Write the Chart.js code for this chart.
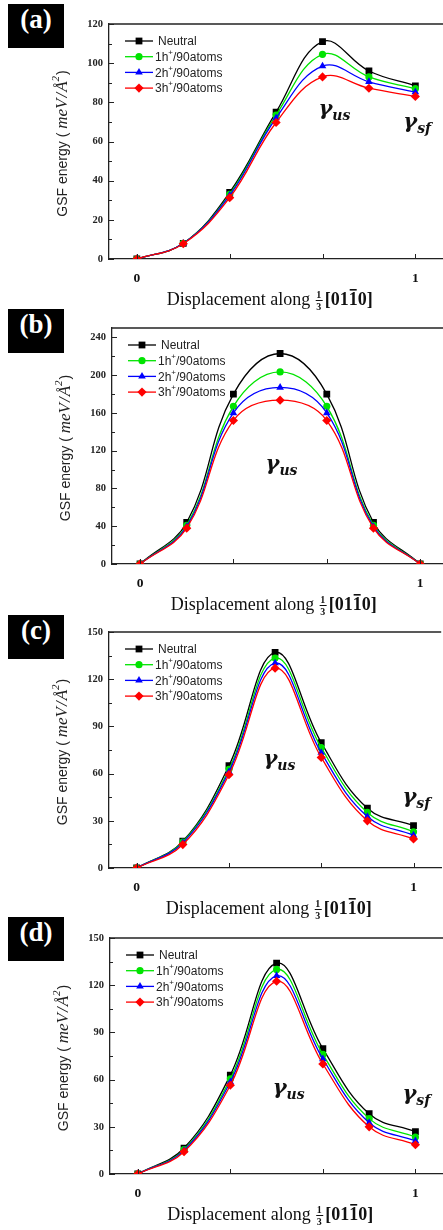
<!DOCTYPE html>
<html>
<head>
<meta charset="utf-8">
<title>GSF energy curves</title>
<script src="https://cdn.jsdelivr.net/npm/chart.js@4.4.1/dist/chart.umd.min.js"></script>
<style>
  html, body { margin: 0; padding: 0; background: #fff; overflow: hidden; }
  body { width: 443px; height: 1230px; position: relative; }
  canvas { position: absolute; left: 0; }
  .tag {
    position: absolute; left: 8px; width: 56px; height: 44px;
    background: #000; color: #fff; text-align: center; line-height: 44px;
    font: bold 27px "Liberation Serif", "Times New Roman", serif;
  }
</style>
</head>
<body>
<div class="tag" style="top:4px">(a)</div>
<div class="tag" style="top:309px">(b)</div>
<div class="tag" style="top:615px">(c)</div>
<div class="tag" style="top:917px">(d)</div>

<canvas id="gsfA" width="448" height="320" style="top:0px"></canvas>
<canvas id="gsfB" width="453" height="320" style="top:305px"></canvas>
<canvas id="gsfC" width="446" height="320" style="top:610px"></canvas>
<canvas id="gsfD" width="448" height="320" style="top:915px"></canvas>

<script>
// displacement along 1/3[01-10], in units of the slip vector
const displacement = [0, 1/6, 2/6, 3/6, 4/6, 5/6, 1];
const seriesLabels = ['Neutral', '1h⁺/90atoms', '2h⁺/90atoms', '3h⁺/90atoms'];

const xTickValues = [0, 1/3, 2/3, 1];
const xTickLabels = ['0', '', '', '1'];

// (a)
const neutralA = [0, 8, 34, 75, 111, 96, 88.4];
const oneHoleA = [0, 8, 33, 73.5, 104.5, 93, 87];
const twoHoleA = [0, 8, 32.5, 72, 98.5, 90.5, 85.2];
const threeHoleA = [0, 7.8, 31.3, 69.7, 93, 87.2, 83];
const yTicksA = [0, 20, 40, 60, 80, 100, 120];

// (b)
const neutralB = [0, 44, 180, 223, 180, 44, 0];
const oneHoleB = [0, 41, 167, 203.5, 167, 41, 0];
const twoHoleB = [0, 39.6, 160, 187, 160, 39.6, 0];
const threeHoleB = [0, 38, 152, 173.5, 152, 38, 0];
const yTicksB = [0, 40, 80, 120, 160, 200, 240];

// (c)
const neutralC = [0, 17, 65, 137, 79.7, 38, 27];
const oneHoleC = [0, 16.5, 62.7, 133.4, 76.5, 35.3, 23];
const twoHoleC = [0, 16, 61.2, 130.2, 73.3, 32.7, 20.8];
const threeHoleC = [0, 14.9, 59.3, 127, 70.3, 30, 18.5];
const yTicksC = [0, 30, 60, 90, 120, 150];

// (d)
const neutralD = [0, 16.5, 62.9, 134, 79.7, 38.3, 26.9];
const oneHoleD = [0, 15.5, 60.4, 130, 76, 35.2, 23.5];
const twoHoleD = [0, 15, 58.5, 126, 73.1, 32.6, 21];
const threeHoleD = [0, 14.2, 56.4, 122.5, 69.9, 30, 18.6];
const yTicksD = [0, 30, 60, 90, 120, 150];

const seriesStyles = [
  { color: '#000000', point: 'rect', radius: 4.8 },
  { color: '#00e400', point: 'circle', radius: 3.6 },
  { color: '#0000ff', point: 'triangle', radius: 4.4 },
  { color: '#ff0000', point: 'rectRot', radius: 4.6 },
];

const SERIF = '"Liberation Serif", "Times New Roman", serif';
const SANS = '"Liberation Sans", Arial, sans-serif';
const GREEK = '"DejaVu Serif", "Liberation Serif", serif';

const panels = [
  { id: 'gsfA', plotLeft: 109, plotTop: 24, plotHeight: 235, yMax: 120, yTicks: yTicksA, minorStep: 10,
    series: [neutralA, oneHoleA, twoHoleA, threeHoleA],
    gammas: [{ sub: 'us', x: 0.652, y: 73.5 }, { sub: 'sf', x: 0.957, y: 67 }] },
  { id: 'gsfB', plotLeft: 112, plotTop: 23, plotHeight: 236, yMax: 250, yTicks: yTicksB, minorStep: 20,
    series: [neutralB, oneHoleB, twoHoleB, threeHoleB],
    gammas: [{ sub: 'us', x: 0.448, y: 100 }] },
  { id: 'gsfC', plotLeft: 109, plotTop: 22, plotHeight: 236, yMax: 150, yTicks: yTicksC, minorStep: 15,
    series: [neutralC, oneHoleC, twoHoleC, threeHoleC],
    gammas: [{ sub: 'us', x: 0.458, y: 65.5 }, { sub: 'sf', x: 0.96, y: 41.3 }] },
  { id: 'gsfD', plotLeft: 110, plotTop: 23, plotHeight: 236, yMax: 150, yTicks: yTicksD, minorStep: 15,
    series: [neutralD, oneHoleD, twoHoleD, threeHoleD],
    gammas: [{ sub: 'us', x: 0.486, y: 50.9 }, { sub: 'sf', x: 0.953, y: 47 }] },
];

// draw a run of text pieces with their own fonts, starting at x
function drawRuns(ctx, runs, x, y) {
  let cx = x;
  for (const r of runs) {
    ctx.font = r.font;
    ctx.fillText(r.text, cx, y + (r.dy || 0));
    const w = ctx.measureText(r.text).width;
    if (r.overline) {
      ctx.fillRect(cx + 1, y - 16, w - 2, 1.6);
    }
    cx += w + (r.gap || 0);
  }
  return cx;
}

function runsWidth(ctx, runs) {
  let w = 0;
  for (const r of runs) {
    ctx.font = r.font;
    w += ctx.measureText(r.text).width + (r.gap || 0);
  }
  return w;
}

// legend label: the "⁺" is drawn as a small raised plus
function legendRuns(label) {
  const bits = label.split('⁺');
  const runs = [{ text: bits[0], font: `12px ${SANS}` }];
  if (bits.length > 1) {
    runs.push({ text: '+', font: `8px ${SANS}`, dy: -5 });
    runs.push({ text: bits[1], font: `12px ${SANS}` });
  }
  return runs;
}

const gsfDecor = {
  id: 'gsfDecor',
  afterDraw(chart, args, opts) {
    const { ctx, chartArea: area, scales: { x, y } } = chart;
    ctx.save();

    // top frame line
    ctx.strokeStyle = '#222';
    ctx.lineWidth = 1.3;
    ctx.beginPath();
    ctx.moveTo(area.left, area.top);
    ctx.lineTo(area.right, area.top);
    ctx.stroke();

    // inward tick marks
    ctx.lineWidth = 1;
    ctx.beginPath();
    for (let v = 0; v <= opts.yMax; v += opts.minorStep) {
      const py = Math.round(y.getPixelForValue(v)) + 0.5;
      const len = opts.yTicks.includes(v) ? 5 : 3;
      ctx.moveTo(area.left, py);
      ctx.lineTo(area.left + len, py);
    }
    for (const v of xTickValues) {
      const px = Math.round(x.getPixelForValue(v)) + 0.5;
      ctx.moveTo(px, area.bottom);
      ctx.lineTo(px, area.bottom - 5);
    }
    ctx.stroke();

    // legend in the upper left of the plot
    ctx.textBaseline = 'middle';
    ctx.fillStyle = '#222';
    seriesLabels.forEach((label, i) => {
      const st = seriesStyles[i];
      const ly = area.top + 17 + i * 15.7;
      const lx = area.left + 16;
      ctx.strokeStyle = st.color;
      ctx.lineWidth = 1.3;
      ctx.beginPath();
      ctx.moveTo(lx, ly);
      ctx.lineTo(lx + 28, ly);
      ctx.stroke();
      ctx.fillStyle = st.color;
      Chart.helpers.drawPoint(ctx, { pointStyle: st.point, radius: st.radius, rotation: 0, borderWidth: 0 }, lx + 14, ly);
      ctx.fillStyle = '#222';
      drawRuns(ctx, legendRuns(label), lx + (i === 0 ? 33 : 30), ly + 1);
    });

    // γ annotations
    ctx.textBaseline = 'alphabetic';
    ctx.fillStyle = '#111';
    for (const g of opts.gammas) {
      const gx = x.getPixelForValue(g.x);
      const gy = y.getPixelForValue(g.y);
      drawRuns(ctx, [
        { text: 'γ', font: `bold italic 21px ${GREEK}` },
        { text: g.sub, font: `bold italic 14px ${GREEK}`, dy: 5 },
      ], gx, gy);
    }

    // y axis title, rotated
    const yRuns = [
      { text: 'GSF energy ( ', font: `14px ${SANS}` },
      { text: 'meV', font: `italic 17px ${SERIF}`, gap: 1 },
      { text: '/', font: `italic 17px ${SERIF}`, gap: 1 },
      { text: 'Å', font: `italic 17px ${SERIF}` },
      { text: '2', font: `italic 11px ${SERIF}`, dy: -8, gap: 1 },
      { text: ')', font: `14px ${SANS}` },
    ];
    ctx.save();
    ctx.translate(area.left - 47, (area.top + area.bottom) / 2 + 2);
    ctx.rotate(-Math.PI / 2);
    ctx.fillStyle = '#222';
    drawRuns(ctx, yRuns, -runsWidth(ctx, yRuns) / 2, 5);
    ctx.restore();

    // x axis title with the 1/3 fraction and the barred index
    const base = area.bottom + 46;
    let tx = x.getPixelForValue(0.47) - 101;
    ctx.fillStyle = '#111';
    tx = drawRuns(ctx, [{ text: 'Displacement along ', font: `18px ${SERIF}` }], tx, base);
    ctx.font = `bold 10px ${SERIF}`;
    ctx.textAlign = 'center';
    ctx.fillText('1', tx + 4, base - 7);
    ctx.fillRect(tx + 1, base - 5, 7, 1);
    ctx.fillText('3', tx + 4, base + 5);
    ctx.textAlign = 'left';
    drawRuns(ctx, [
      { text: '[01', font: `bold 18px ${SERIF}` },
      { text: '1', font: `bold 18px ${SERIF}`, overline: true },
      { text: '0]', font: `bold 18px ${SERIF}` },
    ], tx + 10, base);

    ctx.restore();
  }
};

function makeChart(p) {
  const datasets = p.series.map((values, i) => {
    const st = seriesStyles[i];
    return {
      label: seriesLabels[i],
      data: values.map((v, k) => ({ x: displacement[k], y: v })),
      borderColor: st.color,
      backgroundColor: st.color,
      borderWidth: 1.3,
      pointStyle: st.point,
      pointRadius: st.radius,
      pointBorderWidth: 0,
      pointBackgroundColor: st.color,
      tension: 0.4,
      order: 4 - i,
    };
  });

  const canvas = document.getElementById(p.id);
  new Chart(canvas, {
    type: 'line',
    data: { datasets },
    options: {
      responsive: false,
      animation: false,
      events: [],
      layout: { padding: { top: p.plotTop, left: 0, right: 0, bottom: 0 } },
      plugins: {
        legend: { display: false },
        tooltip: { enabled: false },
        gsfDecor: p,
      },
      scales: {
        x: {
          type: 'linear',
          min: -0.1,
          max: 1.1,
          afterBuildTicks: (s) => { s.ticks = xTickValues.map((v) => ({ value: v })); },
          afterFit: (s) => { s.height = canvas.height - p.plotTop - p.plotHeight; },
          grid: { display: true, drawOnChartArea: false, drawTicks: false },
          border: { display: true, color: '#222', width: 1.3 },
          ticks: {
            autoSkip: false,
            maxRotation: 0,
            padding: 11,
            color: '#111',
            font: { family: SERIF, size: 13.5, weight: 'bold' },
            callback: (v, i) => xTickLabels[i],
          },
        },
        y: {
          type: 'linear',
          min: 0,
          max: p.yMax,
          afterBuildTicks: (s) => { s.ticks = p.yTicks.map((v) => ({ value: v })); },
          afterFit: (s) => { s.width = p.plotLeft; },
          grid: { display: true, drawOnChartArea: false, drawTicks: false },
          border: { display: true, color: '#222', width: 1.3 },
          ticks: {
            padding: 6,
            color: '#222',
            font: { family: SERIF, size: 10.5, weight: 'bold' },
          },
        },
      },
    },
    plugins: [gsfDecor],
  });
}

panels.forEach(makeChart);
</script>
</body>
</html>
